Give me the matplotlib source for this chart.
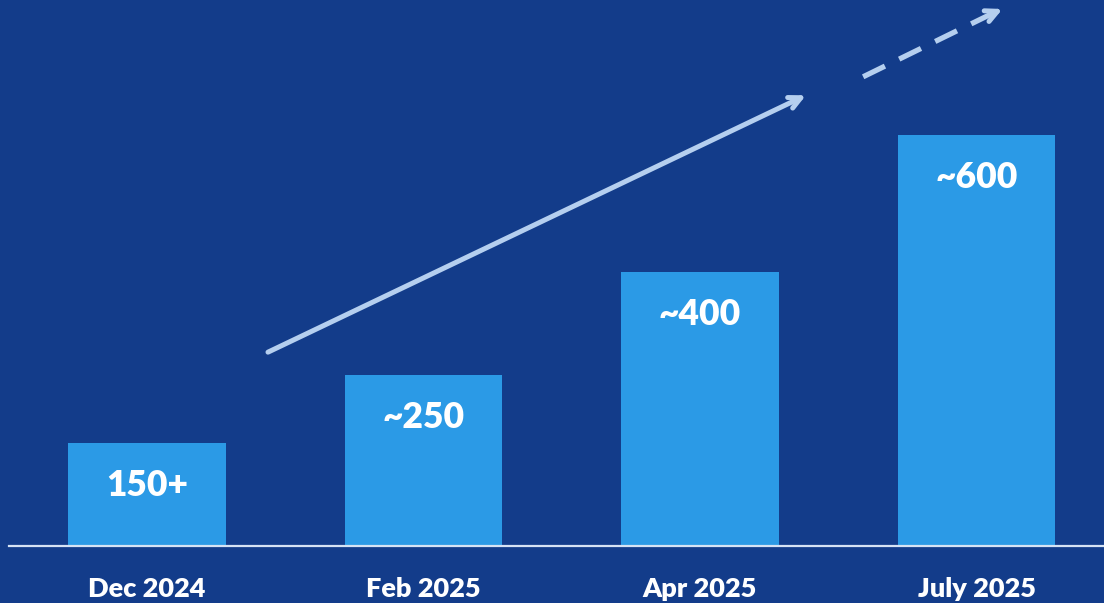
import matplotlib
matplotlib.use('Agg')
import matplotlib.pyplot as plt

months = ["Dec 2024", "Feb 2025", "Apr 2025", "July 2025"]
counts = [150, 250, 400, 600]
count_labels = ["150+", "~250", "~400", "~600"]

bg = "#133C8A"
bar_color = "#2B9AE6"
arrow_color = "#B5CFEF"

fig = plt.figure(figsize=(11.04, 6.03), dpi=100, facecolor=bg)
ax = fig.add_axes([0, 0, 1, 1])
ax.set_facecolor(bg)

x = list(range(len(months)))
ax.bar(x, counts, width=0.571, color=bar_color, zorder=2)

ax.set_xlim(-0.5316, 3.461)
ax.set_ylim(-83.2, 797.1)
ax.axis('off')

# baseline
ax.plot([-0.5, 3.461], [0, 0], color="#D6E3F5", lw=1.6, zorder=3)

# labels inside bars
for xi, c, lab in zip(x, counts, count_labels):
    ax.annotate(lab, (xi, c), xytext=(0, -30.5), textcoords='offset points',
                ha='center', va='center', color='white', fontsize=25.5,
                fontweight='heavy', family='Lato')

# month labels under the axis
for xi, m in zip(x, months):
    ax.text(xi, -63, m, ha='center', va='center', color='white',
            fontsize=19.5, fontweight='heavy', family='Lato')

# trend arrows
head = '->,head_length=0.85,head_width=0.42'
ax.annotate("", xy=(2.383, 658), xytext=(0.4376, 283),
            arrowprops=dict(arrowstyle=head, color=arrow_color, lw=3.6,
                            shrinkA=0, shrinkB=0))
# dashed continuation: dashed shaft + solid head
ax.plot([2.59, 3.05], [685, 776], color=arrow_color, lw=3.8,
        dashes=(4.6, 3.0), solid_capstyle='butt')
ax.annotate("", xy=(3.094, 784), xytext=(3.05, 776),
            arrowprops=dict(arrowstyle=head, color=arrow_color, lw=3.6,
                            shrinkA=0, shrinkB=0))

fig.savefig("out.png", dpi=100, facecolor=bg)
